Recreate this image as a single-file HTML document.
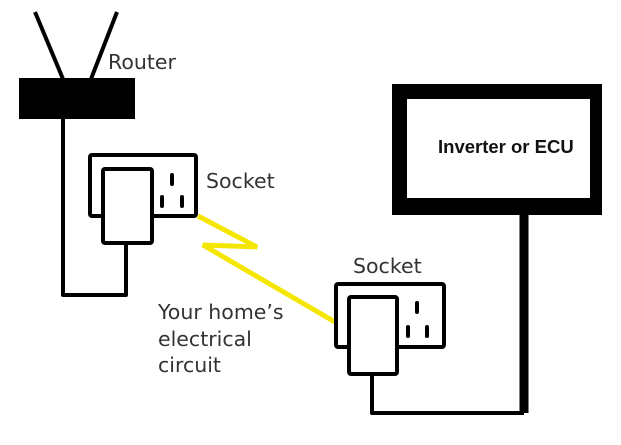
<!DOCTYPE html>
<html><head><style>
html,body{margin:0;padding:0;background:#fff;width:621px;height:445px;overflow:hidden}
</style></head><body>
<svg width="621" height="445" viewBox="0 0 621 445" xmlns="http://www.w3.org/2000/svg">
<g stroke="#000" fill="none" stroke-linejoin="round">
<line x1="35" y1="12" x2="63" y2="79" stroke-width="4"/>
<line x1="117" y1="12" x2="91" y2="79" stroke-width="4"/>
<rect x="19" y="78" width="116" height="41" fill="#000" stroke="none"/>
<polyline points="63,119 63,295 126,295 126,243" stroke-width="4"/>
<rect x="90" y="155" width="106" height="61" rx="2" stroke-width="4" fill="#fff"/>
<rect x="103" y="169" width="49" height="74" rx="2" stroke-width="4" fill="#fff"/>
<g stroke-width="4" stroke-linecap="round">
<line x1="172" y1="175" x2="172" y2="184"/><line x1="162" y1="197" x2="162" y2="206"/><line x1="182" y1="197" x2="182" y2="206"/>
</g>
<polyline points="198,216 257,247 203,245 335,322" stroke="#f5e600" stroke-width="5" stroke-linejoin="miter"/>
<rect x="336" y="284" width="108" height="63" rx="2" stroke-width="4" fill="#fff"/>
<rect x="349" y="297" width="48" height="77" rx="2" stroke-width="4" fill="#fff"/>
<g stroke-width="4" stroke-linecap="round">
<line x1="417" y1="303" x2="417" y2="312"/><line x1="408" y1="327" x2="408" y2="336"/><line x1="427" y1="327" x2="427" y2="336"/>
</g>
<polyline points="372,374 372,413 524,413" stroke-width="4"/>
<line x1="524" y1="413" x2="524" y2="210" stroke-width="9"/>
<path d="M392,84 H602 V215 H392 Z M407,99 V198 H590 V99 Z" fill="#000" fill-rule="evenodd" stroke="none"/>
</g>
<g font-family="'DejaVu Sans','Liberation Sans',sans-serif" font-size="20.5" fill="#333">
<text x="108" y="69">Router</text>
<text x="206" y="188">Socket</text>
<text x="353" y="273">Socket</text>
<text x="158" y="319">Your home’s</text>
<text x="158" y="346">electrical</text>
<text x="158" y="372">circuit</text>
</g>
<text x="438" y="153" font-family="'Liberation Sans',sans-serif" font-weight="bold" font-size="18.5" fill="#111">Inverter or ECU</text>
</svg>
</body></html>
